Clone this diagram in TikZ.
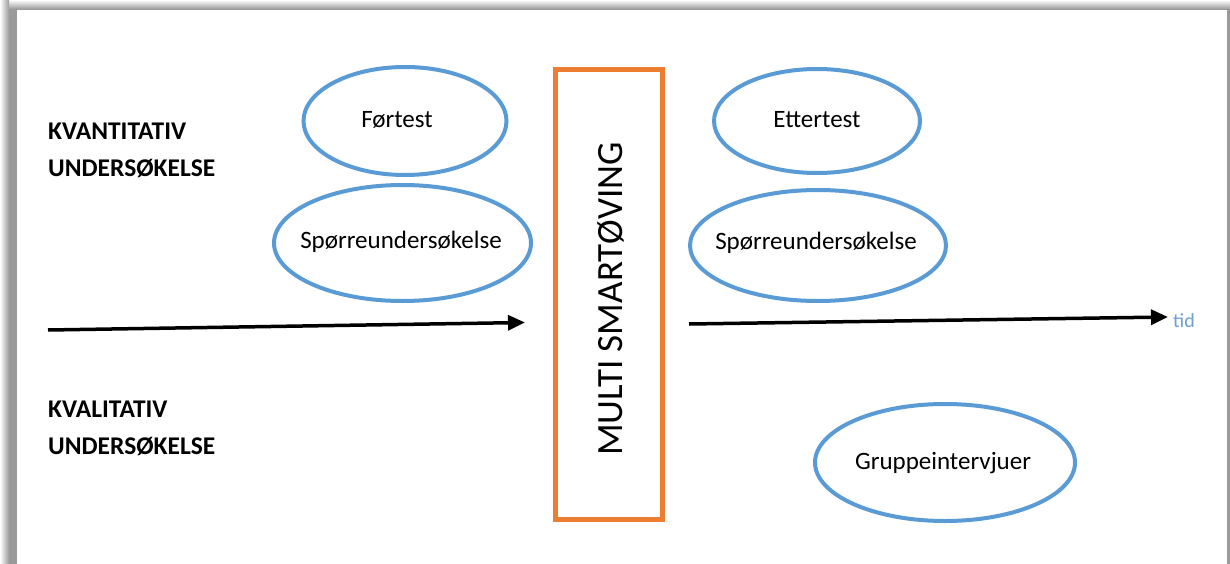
\documentclass[tikz,border=0pt]{standalone}
\usepackage{fontspec}
\setmainfont{Carlito}
\usetikzlibrary{shapes.geometric,arrows.meta}
\definecolor{ellblue}{HTML}{5B9BD5}
\definecolor{boxorange}{HTML}{ED7D31}
\definecolor{tidblue}{HTML}{6C9FD3}
\definecolor{framegray}{HTML}{9A9A9A}
\tikzset{
  oval/.style={draw=ellblue, line width=4pt, ellipse, inner sep=0pt},
  ovaltext/.style={inner sep=0pt, font=\fontsize{25}{29}\selectfont},
  sidelabel/.style={anchor=base west, inner sep=0pt, font=\bfseries\fontsize{25.5}{30}\selectfont},
  timearrow/.style={line width=3.5pt, -{Triangle[length=17pt,width=15pt]}},
}
\begin{document}
\begin{tikzpicture}[x=1pt,y=-1pt]
\useasboundingbox (0,0) rectangle (1230,564);
% frame / shadow
\fill[framegray] (0,0) rectangle (1230,564);
\shade[top color=white, bottom color=framegray] (0,0) rectangle (1230,9);
\shade[left color=white, right color=framegray] (0,0) rectangle (9,564);
\fill[white] (17,10) rectangle (1227,564);
% side labels
\node[sidelabel] (kvant1) at (48,140) {KVANTITATIV};
\node[sidelabel] (kvant2) at (48,176) {UNDERSØKELSE};
\node[sidelabel] (kval1) at (48,417) {KVALITATIV};
\node[sidelabel] (kval2) at (48,454) {UNDERSØKELSE};
% ellipses
\node[oval, minimum width=203pt, minimum height=108pt] (fortest) at (405,121) {};
\node[oval, minimum width=257pt, minimum height=116pt] (sporl) at (402.5,243) {};
\node[oval, minimum width=206pt, minimum height=104pt] (etter) at (817,121) {};
\node[oval, minimum width=256pt, minimum height=111pt] (sporr) at (818,245.5) {};
\node[oval, minimum width=260pt, minimum height=117pt] (gruppe) at (945,462.5) {};
\node[ovaltext] (fortestT) at (397,120) {Førtest};
\node[ovaltext] (sporlT) at (401,242) {Spørreundersøkelse};
\node[ovaltext] (etterT) at (817,120) {Ettertest};
\node[ovaltext] (sporrT) at (816,243) {Spørreundersøkelse};
\node[ovaltext] (gruppeT) at (943,463) {Gruppeintervjuer};
% central box
\node[draw=boxorange, line width=5pt, minimum width=107pt, minimum height=450pt, inner sep=0pt] (box) at (609,294.5) {};
\node[rotate=90, inner sep=0pt, font=\fontsize{37}{42}\selectfont] (multi) at (611,299) {MULTI SMARTØVING};
% time arrows
\coordinate (l0) at (48,330);
\coordinate (l1) at (525,322.5);
\coordinate (r0) at (689,324);
\coordinate (r1) at (1168,317);
\draw[timearrow] (l0) -- (l1);
\draw[timearrow] (r0) -- (r1);
\node[anchor=west, inner sep=0pt, text=tidblue, font=\fontsize{20}{24}\selectfont] (tid) at (1173,321) {tid};
\end{tikzpicture}
\end{document}
